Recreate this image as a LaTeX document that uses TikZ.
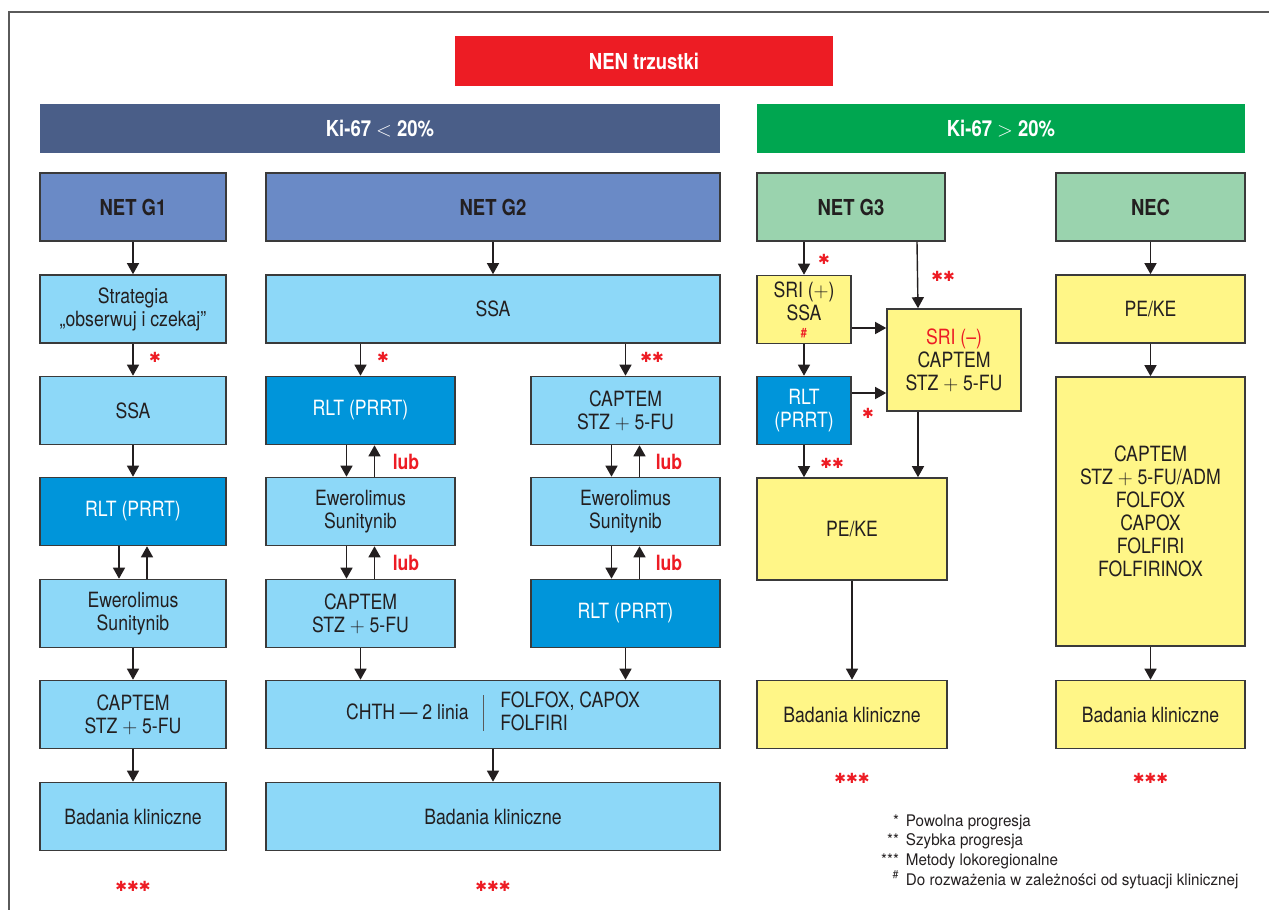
\documentclass[tikz,border=0pt]{standalone}
\usepackage{fontspec}
\setmainfont[FakeStretch=0.84]{TeX Gyre Heros}
\newfontfamily\legendfont[FakeStretch=0.95]{TeX Gyre Heros}
\newfontfamily\starfont{DejaVu Sans}
\usetikzlibrary{arrows.meta}
\definecolor{nenred}{HTML}{ED1C24}
\definecolor{barblue}{HTML}{4A5E88}
\definecolor{bargreen}{HTML}{00A650}
\definecolor{gradeblue}{HTML}{6A8AC6}
\definecolor{gradegreen}{HTML}{9AD3AE}
\definecolor{lightblue}{HTML}{8DD8F8}
\definecolor{darkblue}{HTML}{0095DA}
\definecolor{paleyellow}{HTML}{FFF687}
\definecolor{bordergray}{HTML}{3A3A3A}
\definecolor{framegray}{HTML}{5A5A5A}
\definecolor{textdark}{HTML}{231F20}
\newcommand{\plus}{$+$}

\begin{document}
\fontsize{21}{23}\selectfont
\begin{tikzpicture}[x=1pt, y=-1pt,
  box/.style={rectangle, draw=bordergray, line width=1.6pt, align=center, text=textdark, inner sep=2pt, minimum height=68pt},
  lightbox/.style={box, fill=lightblue},
  darkbox/.style={box, fill=darkblue, text=white},
  yellowbox/.style={box, fill=paleyellow},
  gradebox/.style={box, fill=gradeblue, font=\bfseries\fontsize{22}{24}\selectfont},
  greenbox/.style={box, fill=gradegreen, font=\bfseries\fontsize{22}{24}\selectfont},
  bar/.style={rectangle, align=center, text=white, font=\bfseries\fontsize{22}{24}\selectfont},
  arr/.style={-{Triangle[length=11pt,width=12pt]}, line width=1.4pt, draw=textdark},
  star/.style={text=nenred, font=\starfont\fontsize{14}{14}\selectfont, inner sep=0pt},
  lub/.style={text=nenred, font=\bfseries},
  colone/.style={minimum width=186pt},
  coltwo/.style={minimum width=189pt},
  wide/.style={minimum width=454pt}]
  \useasboundingbox (0,0) rectangle (1269,910);
  \draw[line width=1.5pt, draw=framegray] (9,910) -- (9,12) -- (1269,12);

  % Headers
  \node[bar, fill=nenred, minimum width=378pt, minimum height=50pt] (nen) at (644,61) {NEN trzustki};
  \node[bar, fill=barblue, minimum width=680pt, minimum height=49pt] (kilow) at (380,128.5) {Ki-67 $<$ 20\%};
  \node[bar, fill=bargreen, minimum width=488pt, minimum height=49pt] (kihigh) at (1001,128.5) {Ki-67 $>$ 20\%};
  \node[gradebox, colone] (g1) at (133,207) {NET G1};
  \node[gradebox, wide] (g2) at (493,207) {NET G2};
  \node[greenbox, minimum width=188pt] (g3) at (851,207) {NET G3};
  \node[greenbox, coltwo] (nec) at (1150.5,207) {NEC};

  % NET G1
  \node[lightbox, colone] (strat1) at (133,309) {Strategia\\„obserwuj i czekaj”};
  \node[lightbox, colone] (ssa1) at (133,410.5) {SSA};
  \node[darkbox, colone] (rlt1) at (133,511.5) {RLT (PRRT)};
  \node[lightbox, colone] (ew1) at (133,613.5) {Ewerolimus\\Sunitynib};
  \node[lightbox, colone] (cap1) at (133,714.5) {CAPTEM\\STZ \plus{} 5-FU};
  \node[lightbox, colone] (bad1) at (133,816.5) {Badania kliniczne};

  % NET G2
  \node[lightbox, wide] (ssa2) at (493,309) {SSA};
  \node[darkbox, coltwo] (rlt2) at (360.5,410.5) {RLT (PRRT)};
  \node[lightbox, coltwo] (ew2) at (360.5,511.5) {Ewerolimus\\Sunitynib};
  \node[lightbox, coltwo] (cap2) at (360.5,613.5) {CAPTEM\\STZ \plus{} 5-FU};
  \node[lightbox, coltwo] (cap2r) at (625.5,410.5) {CAPTEM\\STZ \plus{} 5-FU};
  \node[lightbox, coltwo] (ew2r) at (625.5,511.5) {Ewerolimus\\Sunitynib};
  \node[darkbox, coltwo] (rlt2r) at (625.5,613.5) {RLT (PRRT)};
  \node[lightbox, wide] (chth) at (493,714.5) {CHTH — 2 linia\hspace{14pt}{\color{framegray}\rule[-11pt]{0.9pt}{36pt}}\hspace{17pt}\begin{tabular}{@{}l@{}}FOLFOX, CAPOX\\FOLFIRI\end{tabular}};
  \node[lightbox, wide] (bad2) at (493,816.5) {Badania kliniczne};

  % NET G3
  \node[yellowbox, minimum width=94pt] (srip) at (804,309.5) {SRI (\plus)\\SSA\\[-6pt]{\fontsize{13}{13}\selectfont\bfseries\color{nenred}\#}};
  \node[darkbox, minimum width=94pt] (rlt3) at (804,410.5) {RLT\\(PRRT)};
  \node[yellowbox, minimum width=134pt, minimum height=102pt] (srim) at (954,360) {{\color{nenred}SRI (–)}\\CAPTEM\\STZ \plus{} 5-FU};
  \node[yellowbox, minimum width=190pt, minimum height=102pt] (pe3) at (852,529) {PE/KE};
  \node[yellowbox, minimum width=190pt] (bad3) at (852,714.5) {Badania kliniczne};

  % NEC
  \node[yellowbox, coltwo] (penec) at (1150.5,309) {PE/KE};
  \node[yellowbox, coltwo, minimum height=269pt] (chnec) at (1150.5,511.5) {CAPTEM\\STZ \plus{} 5-FU/ADM\\FOLFOX\\CAPOX\\FOLFIRI\\FOLFIRINOX};
  \node[yellowbox, coltwo] (badnec) at (1150.5,714.5) {Badania kliniczne};

  % Lines
  \draw[arr] (g1) -- (strat1);
  \draw[arr] (strat1) -- (ssa1);
  \draw[arr] (ssa1) -- (rlt1);
  \draw[arr] ([xshift=-14pt]rlt1.south) -- ([xshift=-14pt]ew1.north);
  \draw[arr] ([xshift=14pt]ew1.north) -- ([xshift=14pt]rlt1.south);
  \draw[arr] (ew1) -- (cap1);
  \draw[arr] (cap1) -- (bad1);

  \draw[arr] (g2) -- (ssa2);
  \draw[arr] (ssa2.south -| rlt2.north) -- (rlt2.north);
  \draw[arr] (ssa2.south -| cap2r.north) -- (cap2r.north);
  \draw[arr] ([xshift=-14pt]rlt2.south) -- ([xshift=-14pt]ew2.north);
  \draw[arr] ([xshift=14pt]ew2.north) -- ([xshift=14pt]rlt2.south);
  \draw[arr] ([xshift=-14pt]ew2.south) -- ([xshift=-14pt]cap2.north);
  \draw[arr] ([xshift=14pt]cap2.north) -- ([xshift=14pt]ew2.south);
  \draw[arr] ([xshift=-14pt]cap2r.south) -- ([xshift=-14pt]ew2r.north);
  \draw[arr] ([xshift=14pt]ew2r.north) -- ([xshift=14pt]cap2r.south);
  \draw[arr] ([xshift=-14pt]ew2r.south) -- ([xshift=-14pt]rlt2r.north);
  \draw[arr] ([xshift=14pt]rlt2r.north) -- ([xshift=14pt]ew2r.south);
  \draw[arr] (cap2.south) -- (cap2.south |- chth.north);
  \draw[arr] (rlt2r.south) -- (rlt2r.south |- chth.north);
  \draw[arr] (chth) -- (bad2);

  \draw[arr] (g3.south -| srip.north) -- (srip.north);
  \draw[arr] ([xshift=66pt]g3.south) -- ([xshift=-36pt]srim.north);
  \draw[arr] (srip) -- (rlt3);
  \draw[arr] ([yshift=-18.5pt]srip.east) -- ([yshift=32pt]srim.west);
  \draw[arr] ([yshift=17.5pt]rlt3.east) -- ([yshift=-33pt]srim.west);
  \draw[arr] (rlt3.south) -- (rlt3.south |- pe3.north);
  \draw[arr] ([xshift=-36pt]srim.south) -- ([xshift=66pt]pe3.north);
  \draw[arr] (pe3) -- (bad3);

  \draw[arr] (nec) -- (penec);
  \draw[arr] (penec) -- (chnec);
  \draw[arr] (chnec) -- (badnec);

  % Marks
  \node[star] (st1) at (155,357) {✱};
  \node[star] (st2) at (383,357) {✱};
  \node[star] (st3) at (652,357) {✱✱};
  \node[star] (st4) at (824,259) {✱};
  \node[star] (st5) at (943,276) {✱✱};
  \node[star] (st6) at (868,413) {✱};
  \node[star] (st7) at (832,463) {✱✱};
  \node[lub] (lub1) at (406,462) {lub};
  \node[lub] (lub2) at (406,563) {lub};
  \node[lub] (lub3) at (669,462) {lub};
  \node[lub] (lub4) at (669,563) {lub};
  \node[star] (loc1) at (133,886) {✱✱✱};
  \node[star] (loc2) at (493,886) {✱✱✱};
  \node[star] (loc3) at (852,778) {✱✱✱};
  \node[star] (loc4) at (1150.5,778) {✱✱✱};

  % Legend
  \node[anchor=west, inner sep=0pt, text=textdark, font=\legendfont\fontsize{16}{19.3}\selectfont] (legend) at (881,852) {\begin{tabular}{@{}r@{\hspace{7pt}}l@{}}
    {*} & Powolna progresja\\
    {**} & Szybka progresja\\
    {***} & Metody lokoregionalne\\
    \textsuperscript{\#} & Do rozważenia w zależności od sytuacji klinicznej
  \end{tabular}};
\end{tikzpicture}
\end{document}
